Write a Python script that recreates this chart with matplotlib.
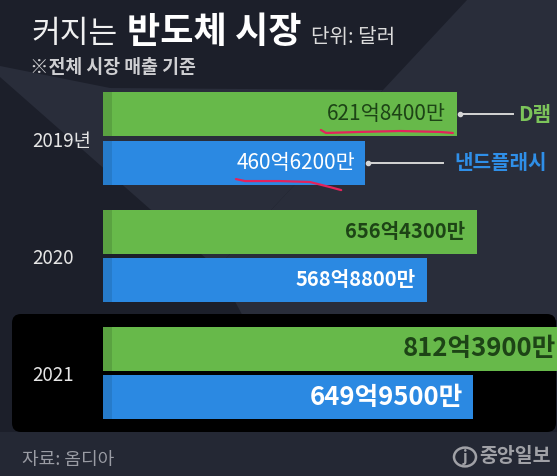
import matplotlib
matplotlib.use("Agg")
import matplotlib.pyplot as plt
from matplotlib.patches import Polygon, FancyBboxPatch, Circle
import numpy as np

plt.rcParams['font.family'] = ['Noto Sans CJK KR', 'DejaVu Sans']

# ---------------- data ----------------
years = ['2019년', '2020', '2021']
series_names = ['D램', '낸드플래시']
dram = [621.84, 656.43, 812.39]      # 억 달러
nand = [460.62, 568.88, 649.95]      # 억 달러

title_regular = '커지는'
title_bold = '반도체 시장'
unit_text = '단위: 달러'
subtitle = '※전체 시장 매출 기준'
source = '자료: 옴디아'
logo = '중앙일보'

def fmt(v):
    eok = int(v)
    man = int(round((v - eok) * 10000))
    return f'{eok}억{man}만'

# ---------------- figure ----------------
W, H = 557, 476
fig = plt.figure(figsize=(W / 100, H / 100), dpi=100)
BASE_DARK = '#1c1f2a'
LIGHT = '#292d3a'
fig.patch.set_facecolor(BASE_DARK)

def P(x, y):
    return (x / W, 1 - y / H)

# background geometric shapes
for pts, col in [
    ([(467, 0), (557, 0), (557, 320), (245, 320), (217, 268)], LIGHT),
    ([(0, 66), (0, 77), (217, 268), (383, 90), (110, 88)], LIGHT),
    ([(0, 432), (557, 432), (557, 476), (0, 476)], '#242834'),
]:
    fig.add_artist(Polygon([P(*p) for p in pts], closed=True, transform=fig.transFigure,
                           facecolor=col, edgecolor='none', zorder=-3))

# black highlight box for 2021
fig.add_artist(FancyBboxPatch((12 / 100, (H - 432) / 100), (556 - 12) / 100, (432 - 314) / 100,
                              boxstyle='round,pad=0,rounding_size=0.09',
                              transform=fig.dpi_scale_trans, facecolor='#000000',
                              edgecolor='none', zorder=-2))

# ---------------- axes ----------------
PX_PER_UNIT = 0.569
X0 = 103
GROUP_SP = 117.25
TOP0 = 138.5 - GROUP_SP / 2
ax = fig.add_axes([X0 / W, 1 - (TOP0 + 3 * GROUP_SP) / H, (W - X0) / W, 3 * GROUP_SP / H])
ax.set_facecolor('none')
ax.set_xlim(0, (W - X0) / PX_PER_UNIT)
ax.set_ylim(2.5, -0.5)
for s in ax.spines.values():
    s.set_visible(False)
ax.set_xticks([])

GREEN = '#67b94a'
BLUE = '#2b89e2'
bh = 0.375
off = 0.205
y = np.arange(len(years))
ax.barh(y - off, dram, height=bh, color=GREEN, zorder=2)
ax.barh(y + off, nand, height=bh, color=BLUE, zorder=2)
# shaded left edge of bars
ax.barh(y - off, [16] * len(y), height=bh, color='#000000', alpha=0.12, zorder=3)
ax.barh(y + off, [16] * len(y), height=bh, color='#000000', alpha=0.10, zorder=3)

ax.set_yticks(y)
ax.set_yticklabels(years)
ax.tick_params(axis='y', length=0, pad=(X0 - 32) * 0.72, labelcolor='#e6e6e6', labelsize=13.5)
for t in ax.get_yticklabels():
    t.set_horizontalalignment('left')

# value labels
sizes = [15, 14.5, 18.5]
weights = ['normal', 'bold', 'bold']
pads_g = [-8, -8, -7]
pads_b = [-7, -8, -7]
for i in range(len(years)):
    ax.annotate(fmt(dram[i]), (dram[i], i - off), xytext=(pads_g[i], 0), textcoords='offset points',
                ha='right', va='center', fontsize=sizes[i], fontweight=weights[i],
                color='#1d4416', zorder=4, annotation_clip=False)
    ax.annotate(fmt(nand[i]), (nand[i], i + off), xytext=(pads_b[i], 0), textcoords='offset points',
                ha='right', va='center', fontsize=sizes[i], fontweight=weights[i],
                color='#ffffff', zorder=4, annotation_clip=False)

# series labels with connector lines (on the 2019 bars)
LINE_COL = '#d5d5d5'
for val, yy, end_x, txt_x, name, col in [
    (dram[0], -off, 720, 730, series_names[0], '#7cc45a'),
    (nand[0], off, 597, 617, series_names[1], '#2f8fe8'),
]:
    ax.plot([val + 5, end_x], [yy, yy], color=LINE_COL, lw=1.4, zorder=4, clip_on=False)
    ax.plot([val + 5], [yy], 'o', color=LINE_COL, ms=3, zorder=4, clip_on=False)
    ax.text(txt_x, yy, name, ha='left', va='center', fontsize=14.5, fontweight='bold',
            color=col, zorder=4, clip_on=False)

# hand-drawn red underlines (annotation)
RED = '#e4235c'
gx = np.array([-239, -230, -170, -100, -30, -7]) + dram[0]
gy = np.array([0.132, 0.158, 0.149, 0.141, 0.149, 0.158]) - off
ax.plot(gx, gy, color=RED, lw=1.6, zorder=5, solid_capstyle='round')
bx = np.array([-227, -211, -150, -97, -62, -42]) + nand[0]
by = np.array([0.141, 0.158, 0.158, 0.166, 0.209, 0.235]) + off
ax.plot(bx, by, color=RED, lw=1.6, zorder=5, solid_capstyle='round', clip_on=False)

# ---------------- texts ----------------
fig.text(*P(31, 43), title_regular, fontsize=22.5, color='#f0f0f0', va='baseline', ha='left')
fig.text(*P(127, 43), title_bold, fontsize=26, fontweight='bold', color='#ffffff', va='baseline', ha='left')
fig.text(*P(311, 43), unit_text, fontsize=14.5, color='#dcdcdc', va='baseline', ha='left')
fig.text(*P(30, 73), subtitle, fontsize=13.2, fontweight='bold', color='#cfcfd2', va='baseline', ha='left')
fig.text(*P(22, 465), source, fontsize=13, color='#9a9ca4', va='baseline', ha='left')

# logo
fig.add_artist(Circle(P(465, 457), 11 / W, transform=fig.transFigure, facecolor='none',
                      edgecolor='#a0a1a6', lw=1.8))
fig.text(*P(465, 457), 'j', fontsize=11, color='#a0a1a6', ha='center', va='center', fontweight='bold')
fig.text(*P(479, 457), logo, fontsize=14, fontweight='bold', color='#a0a1a6', ha='left', va='center')

fig.savefig('out.png', dpi=100, facecolor=fig.get_facecolor())
